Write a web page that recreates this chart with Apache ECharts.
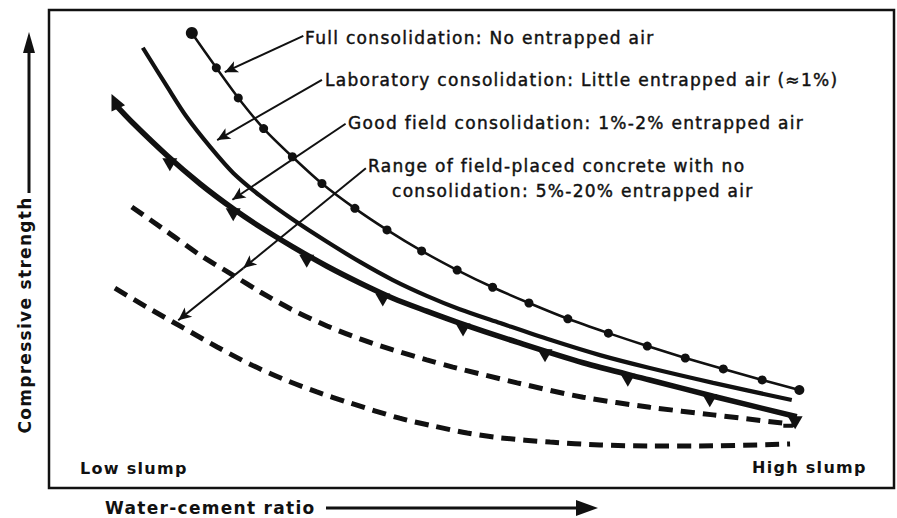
<!DOCTYPE html>
<html>
<head>
<meta charset="utf-8">
<script src="https://cdn.jsdelivr.net/npm/echarts@6/dist/echarts.min.js"></script>
<style>
  html, body { margin: 0; padding: 0; background: #fff; }
  #chart { width: 897px; height: 518px; }
  #chart text { letter-spacing: 1.3px; }
</style>
</head>
<body>
<div id="chart"></div>
<script>
// relative units: water-cement ratio 0-100 (low -> high slump), strength 0-100
const fullConsolidation = [
  [16.9, 95.2], [19.8, 87.9], [22.4, 81.6], [25.4, 75.2], [28.8, 69.3], [32.3, 63.7],
  [36.2, 58.5], [40.0, 54.0], [44.1, 49.6], [48.3, 45.6], [52.5, 42.0], [56.8, 38.7],
  [61.4, 35.4], [66.2, 32.4], [70.8, 29.7], [75.3, 27.2], [79.8, 24.9], [84.4, 22.6], [88.8, 20.5]
]
const labConsolidation = [
  [11.1, 92.1], [14.0, 83.9], [16.3, 77.6], [19.1, 71.3], [21.8, 65.9], [25.0, 61.1],
  [28.9, 56.1], [32.9, 51.5], [36.8, 47.3], [40.7, 43.5], [44.7, 40.2], [48.6, 37.4],
  [53.4, 34.5], [59.3, 31.0], [65.2, 27.8], [71.1, 25.1], [78.6, 22.0], [87.9, 18.4]
]
const goodField = [
  [7.8, 80.3], [9.9, 76.4], [14.0, 69.5], [17.9, 63.6], [21.8, 58.4], [25.0, 54.6],
  [28.9, 50.4], [32.9, 46.4], [36.8, 42.9], [40.7, 39.7], [44.7, 37.0], [48.6, 34.5],
  [55.4, 30.5], [63.2, 26.2], [71.1, 22.6], [78.6, 19.2], [88.5, 14.9]
]
const goodFieldHook = [[88.5, 14.9], [88.0, 13.0], [86.9, 13.0]]
const goodFieldTicks = [
  [7.8, 80.3], [14.3, 68.9], [21.8, 58.4], [30.5, 48.7], [39.5, 40.6],
  [49.0, 34.3], [58.7, 28.9], [68.5, 23.8], [78.2, 19.5], [88.3, 14.9]
]
const fieldUpper = [
  [9.8, 58.8], [14.0, 53.6], [17.9, 48.7], [21.8, 44.5], [25.0, 41.0], [28.9, 37.2],
  [32.9, 33.9], [36.8, 31.2], [40.7, 28.9], [44.7, 26.8], [47.8, 25.3], [55.4, 22.0],
  [63.2, 19.0], [71.1, 16.9], [78.6, 15.3], [87.7, 13.4]
]
const fieldLower = [
  [7.8, 41.8], [12.0, 37.4], [15.9, 33.5], [19.9, 29.5], [23.8, 25.9], [27.7, 22.8],
  [31.7, 20.1], [35.6, 17.8], [41.5, 14.6], [45.4, 13.0], [49.5, 11.5], [53.4, 10.5],
  [59.3, 9.6], [65.2, 9.0], [71.1, 8.8], [77.0, 8.8], [87.7, 9.2]
]
// callout arrows: [from, to]
const arrows = [
  [[30.1, 94.6], [20.8, 87.0]],
  [[32.3, 85.4], [19.9, 72.8]],
  [[35.1, 76.2], [21.7, 60.3]],
  [[37.5, 66.9], [23.0, 46.0]],
  [[23.0, 46.0], [15.3, 35.1]]
]
const callouts = [
  'Full consolidation: No entrapped air',
  'Laboratory consolidation: Little entrapped air (≈1%)',
  'Good field consolidation: 1%-2% entrapped air',
  'Range of field-placed concrete with no',
  'consolidation: 5%-20% entrapped air'
]

const ink = '#111'
const labelFont = '17px "DejaVu Sans", sans-serif'
const boldFont = 'bold 16px "DejaVu Sans", sans-serif'
const titleFont = 'bold 17px "DejaVu Sans", sans-serif'

// plain callout text, slightly heavier like the printed original
const note = (text, x, y) => ({
  type: 'text', x, y,
  style: { text, font: labelFont, fill: ink, stroke: ink, lineWidth: 0.45, verticalAlign: 'middle' }
})

const chart = echarts.init(document.getElementById('chart'), null, { renderer: 'svg' })
chart.setOption({
  animation: false,
  backgroundColor: '#fff',
  grid: { left: 49, top: 10, right: 3, bottom: 30, show: true, borderColor: ink, borderWidth: 2.5 },
  xAxis: { type: 'value', min: 0, max: 100, show: false },
  yAxis: { type: 'value', min: 0, max: 100, show: false },
  series: [
    {
      name: 'Full consolidation', type: 'line', smooth: 0.2, data: fullConsolidation,
      lineStyle: { color: ink, width: 2.5 }, itemStyle: { color: ink },
      symbol: 'circle',
      symbolSize: (v, p) => (p.dataIndex === 0 ? 12 : p.dataIndex === fullConsolidation.length - 1 ? 10 : 9)
    },
    {
      name: 'Laboratory consolidation', type: 'line', smooth: 0.3, data: labConsolidation,
      lineStyle: { color: ink, width: 4.2 }, showSymbol: false
    },
    {
      name: 'Good field consolidation', type: 'line', smooth: 0.3, data: goodField,
      lineStyle: { color: ink, width: 5.5 }, showSymbol: false
    },
    {
      name: 'Good field hook', type: 'line', data: goodFieldHook,
      lineStyle: { color: ink, width: 4 }, showSymbol: false
    },
    {
      name: 'Good field ticks', type: 'scatter', silent: true,
      data: goodFieldTicks.map((d, i) => i === 0
        ? { value: d, symbolRotate: 25, symbolOffset: [0, -3], symbolSize: [15, 16] }
        : { value: d }),
      symbol: 'triangle', symbolRotate: 180, symbolSize: [15, 13], symbolOffset: [0, 6],
      itemStyle: { color: ink, opacity: 1 }
    },
    {
      name: 'Field upper', type: 'line', smooth: 0.3, data: fieldUpper,
      lineStyle: { color: ink, width: 5, type: [14, 8] }, showSymbol: false
    },
    {
      name: 'Field lower', type: 'line', smooth: 0.3, data: fieldLower,
      lineStyle: { color: ink, width: 5, type: [14, 8] }, showSymbol: false
    },
    {
      name: 'callouts', type: 'line', data: [],
      markLine: {
        silent: true,
        symbol: ['none', 'arrow'],
        symbolSize: [9, 13],
        label: { show: false },
        lineStyle: { color: ink, width: 2, type: 'solid' },
        data: arrows.map(a => [{ coord: a[0] }, { coord: a[1] }])
      }
    }
  ],
  graphic: [
    note(callouts[0], 305, 38),
    note(callouts[1], 325, 80),
    note(callouts[2], 348, 123),
    note(callouts[3], 368, 166),
    note(callouts[4], 392, 191),
    { type: 'text', x: 80, y: 468, style: { text: 'Low slump', font: boldFont, fill: ink, verticalAlign: 'middle' } },
    { type: 'text', x: 752, y: 467, style: { text: 'High slump', font: boldFont, fill: ink, verticalAlign: 'middle' } },
    // x axis title with arrow
    { type: 'text', x: 105, y: 508, style: { text: 'Water-cement ratio', font: titleFont, fill: ink, verticalAlign: 'middle' } },
    { type: 'line', shape: { x1: 326, y1: 508, x2: 580, y2: 508 }, style: { stroke: ink, lineWidth: 3 } },
    { type: 'polygon', shape: { points: [[576, 500], [598, 508], [576, 516]] }, style: { fill: ink } },
    // y axis title with arrow
    { type: 'text', x: 25, y: 315, rotation: Math.PI / 2, style: { text: 'Compressive strength', font: titleFont, fill: ink, align: 'center', verticalAlign: 'middle' } },
    { type: 'line', shape: { x1: 29, y1: 193, x2: 29, y2: 50 }, style: { stroke: ink, lineWidth: 3 } },
    { type: 'polygon', shape: { points: [[23, 53], [29, 32], [35, 53]] }, style: { fill: ink } }
  ]
})
</script>
</body>
</html>
